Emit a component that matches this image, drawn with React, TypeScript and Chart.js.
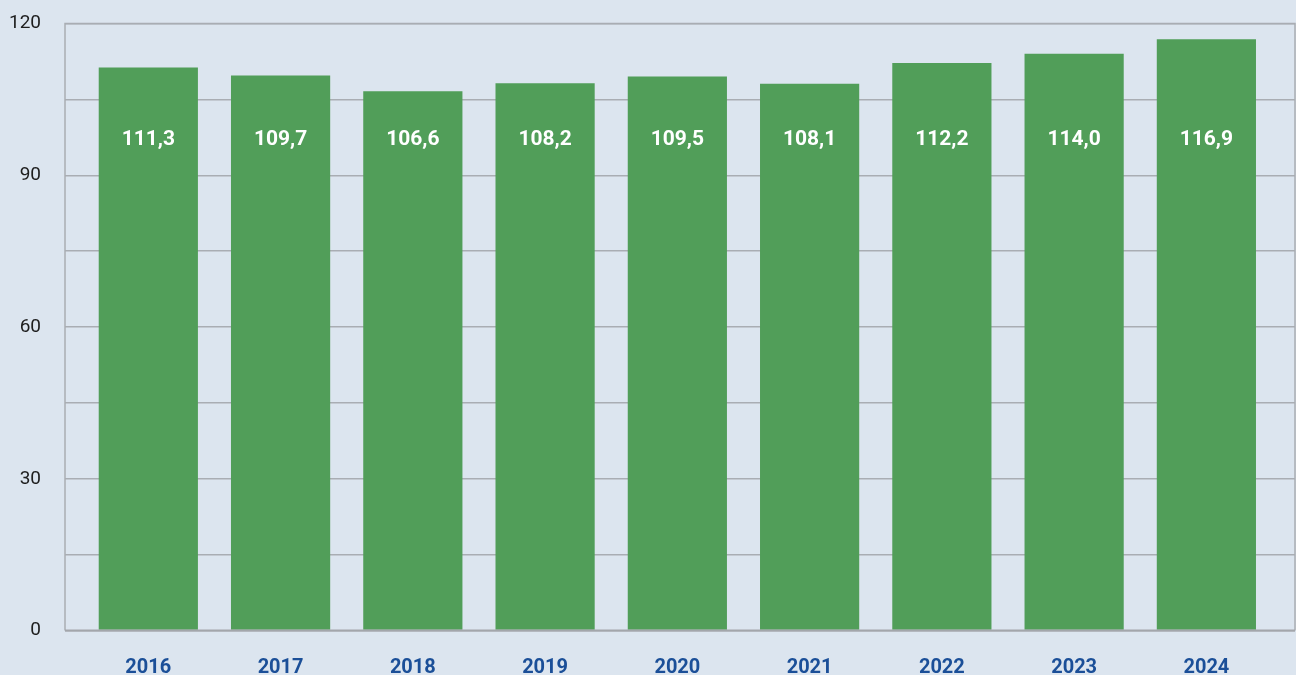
import React, { useEffect, useRef } from "react";
import { Chart, registerables } from "chart.js";

Chart.register(...registerables);

const years = [2016, 2017, 2018, 2019, 2020, 2021, 2022, 2023, 2024];
const values = [111.3, 109.7, 106.6, 108.2, 109.5, 108.1, 112.2, 114.0, 116.9];
const yTickLabels = [0, 30, 60, 90, 120];
const LABEL_LEVEL = 97;

const BG = "#dce5ef";
const GREEN = "#519e59";
const GRID = "#a9adb3";
const YEAR_BLUE = "#1b4f98";

const framePlugin = {
  id: "frame",
  beforeDatasetsDraw(chart: any) {
    const { ctx, chartArea } = chart;
    ctx.save();
    ctx.strokeStyle = GRID;
    ctx.lineWidth = 1.5;
    ctx.beginPath();
    ctx.moveTo(chartArea.left, chartArea.bottom);
    ctx.lineTo(chartArea.left, chartArea.top);
    ctx.lineTo(chartArea.right, chartArea.top);
    ctx.lineTo(chartArea.right, chartArea.bottom);
    ctx.stroke();
    ctx.restore();
  },
  afterDatasetsDraw(chart: any) {
    const { ctx, chartArea } = chart;
    ctx.save();
    ctx.strokeStyle = "#a3a6ab";
    ctx.lineWidth = 2;
    ctx.beginPath();
    ctx.moveTo(chartArea.left, chartArea.bottom);
    ctx.lineTo(chartArea.right, chartArea.bottom);
    ctx.stroke();
    ctx.restore();
  },
};

const labelPlugin = {
  id: "valueLabels",
  afterDatasetsDraw(chart: any) {
    const { ctx } = chart;
    const meta = chart.getDatasetMeta(0);
    const yScale = chart.scales.y;
    const y = yScale.getPixelForValue(LABEL_LEVEL);
    ctx.save();
    ctx.fillStyle = "#ffffff";
    ctx.font = "bold 21px Roboto";
    ctx.textAlign = "center";
    ctx.textBaseline = "middle";
    meta.data.forEach((bar: any, i: number) => {
      ctx.fillText(values[i].toFixed(1).replace(".", ","), bar.x, y);
    });
    ctx.restore();
  },
};

export default function App() {
  const ref = useRef<HTMLCanvasElement>(null);
  useEffect(() => {
    document.body.style.margin = "0";
    document.body.style.background = BG;
    const chart = new Chart(ref.current!, {
      type: "bar",
      data: {
        datasets: [
          {
            data: years.map((x, i) => ({ x, y: values[i] })),
            backgroundColor: GREEN,
            borderWidth: 0,
            barPercentage: 0.75,
            categoryPercentage: 1,
          },
        ],
      },
      options: {
        animation: false,
        responsive: false,
        maintainAspectRatio: false,
        layout: { padding: { top: 23.5, right: 1, left: 0, bottom: 0 } },
        plugins: { legend: { display: false }, tooltip: { enabled: false } },
        scales: {
          x: {
            type: "linear",
            offset: false,
            min: 2015.37,
            max: 2024.67,
            grid: { display: false, drawTicks: false, offset: false },
            border: { display: false },
            afterBuildTicks: (scale: any) => {
              scale.ticks = years.map((v) => ({ value: v }));
            },
            afterFit: (scale: any) => {
              scale.height = 44.5;
              scale.paddingLeft = 0;
              scale.paddingRight = 0;
            },
            ticks: {
              padding: 25,
              font: { family: "Roboto", weight: "bold", size: 20 },
              color: YEAR_BLUE,
              callback: (v: any) => String(v),
              maxRotation: 0,
              autoSkip: false,
            },
          },
          y: {
            min: 0,
            max: 120,
            afterFit: (scale: any) => {
              scale.width = 65;
              scale.paddingTop = 0;
              scale.paddingBottom = 0;
            },
            grid: { color: GRID, lineWidth: 1.5, drawTicks: false },
            border: { display: false },
            ticks: {
              stepSize: 15,
              padding: 24,
              font: { family: "Roboto", size: 19 },
              color: "#1e1e1e",
              callback: (v: any) => (yTickLabels.includes(Number(v)) ? String(v) : ""),
            },
          },
        },
      },
      plugins: [framePlugin, labelPlugin],
    });
    return () => chart.destroy();
  }, []);
  return (
    <div style={{ width: 1296, height: 675, background: BG }}>
      <canvas ref={ref} width={1296} height={675} style={{ display: "block" }} />
    </div>
  );
}
